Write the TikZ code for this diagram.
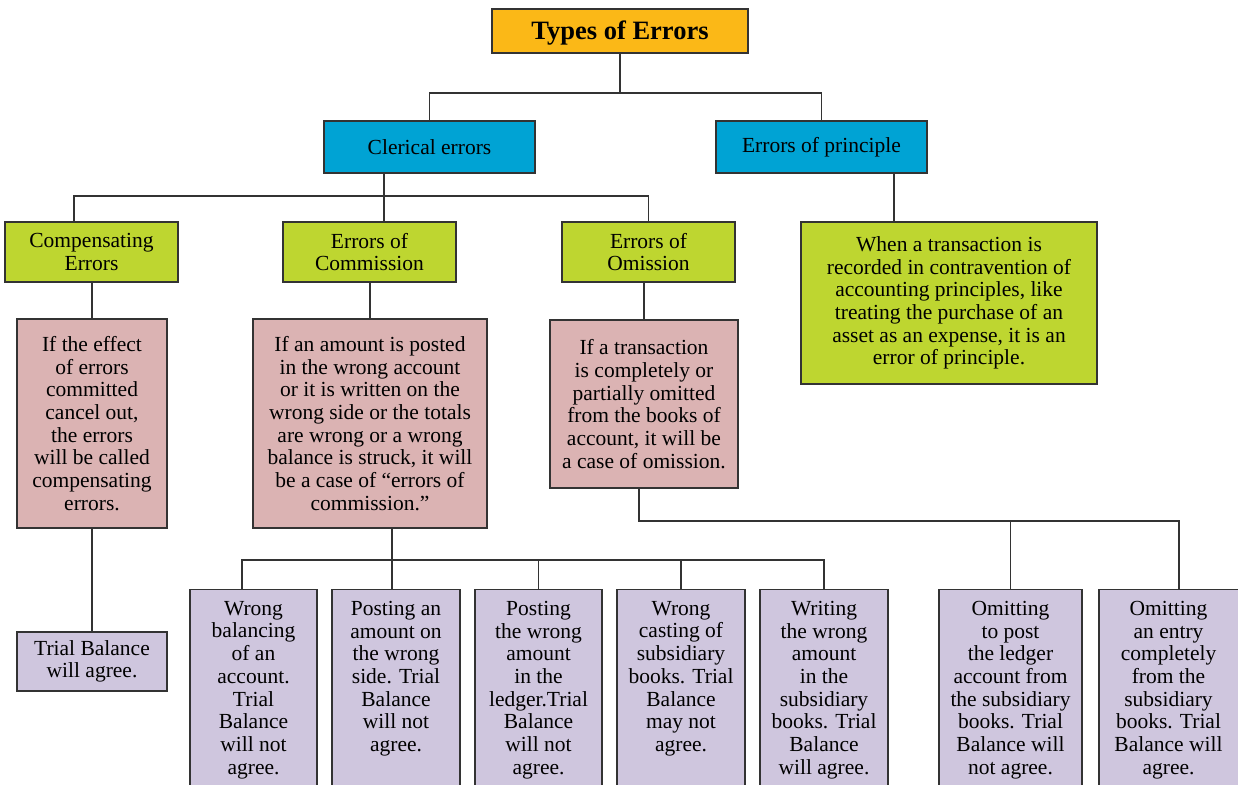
\documentclass[tikz,border=0pt]{standalone}
\usepackage{fontspec}
\setmainfont{Liberation Serif}

\definecolor{titlefill}{HTML}{FBB817}
\definecolor{headfill}{HTML}{00A3D4}
\definecolor{typefill}{HTML}{BED630}
\definecolor{notefill}{HTML}{DBB3B3}
\definecolor{casefill}{HTML}{CFC6DE}
\definecolor{edge}{HTML}{333333}

\newcommand\bodytext{\fontsize{21.5}{22.7}\selectfont}

\tikzset{
  box/.style={draw=edge, line width=1.3pt, inner sep=0pt, align=center,
              font=\bodytext, text=black},
  titlebox/.style={box, fill=titlefill, font=\fontsize{26.5}{30}\selectfont\bfseries},
  headbox/.style={box, fill=headfill},
  typebox/.style={box, fill=typefill},
  notebox/.style={box, fill=notefill},
  casebox/.style={box, fill=casefill},
  casetext/.style={anchor=north, inner sep=0pt, align=center, font=\bodytext},
  link/.style={draw=edge, line width=1.2pt}
}

\begin{document}
\begin{tikzpicture}[x=1pt, y=-1pt]
\fill[white] (0,0) rectangle (1238,784);
\useasboundingbox (0,0) rectangle (1238,784);

% top level
\node[titlebox, minimum width=256pt, minimum height=44pt] (title) at (620,31) {\raisebox{-8.5pt}[0pt][0pt]{Types of Errors}};
\node[headbox, minimum width=211pt, minimum height=52pt] (clerical) at (429.5,147) {Clerical errors};
\node[headbox, minimum width=211pt, minimum height=52pt] (principle) at (821.5,147) {Errors of principle};

% kinds of clerical error
\node[typebox, minimum width=173pt, minimum height=60pt] (comp) at (91.5,252) {Compensating\\Errors};
\node[typebox, minimum width=173pt, minimum height=60pt] (comm) at (369.5,252) {Errors of\\Commission};
\node[typebox, minimum width=173pt, minimum height=60pt] (omis) at (648.5,252) {Errors of\\Omission};
\node[typebox, minimum width=296pt, minimum height=162pt] (princnote) at (949,303)
  {When a transaction is\\recorded in contravention of\\accounting principles, like\\treating the purchase of an\\asset as an expense, it is an\\error of principle.};

% explanations
\node[notebox, minimum width=150pt, minimum height=209pt] (compnote) at (92,423.5)
  {If the effect\\of errors\\committed\\cancel out,\\the errors\\will be called\\compensating\\errors.};
\node[notebox, minimum width=234pt, minimum height=209pt] (commnote) at (370,423.5)
  {If an amount is posted\\in the wrong account\\or it is written on the\\wrong side or the totals\\are wrong or a wrong\\balance is struck, it will\\be a case of “errors of\\commission.”};
\node[notebox, minimum width=188pt, minimum height=168pt] (omisnote) at (644,404)
  {If a transaction\\is completely or\\partially omitted\\from the books of\\account, it will be\\a case of omission.};

% effect on the trial balance
\node[casebox, minimum width=150pt, minimum height=59pt] (compcase) at (92,661.5) {Trial Balance\\will agree.};

\node[casebox, minimum width=127pt, minimum height=212pt, anchor=north] (c1) at (253.5,589) {};
\node[casebox, minimum width=128pt, minimum height=212pt, anchor=north] (c2) at (396,589) {};
\node[casebox, minimum width=127pt, minimum height=212pt, anchor=north] (c3) at (538.5,589) {};
\node[casebox, minimum width=128pt, minimum height=212pt, anchor=north] (c4) at (681,589) {};
\node[casebox, minimum width=128pt, minimum height=212pt, anchor=north] (c5) at (824,589) {};
\node[casebox, minimum width=143pt, minimum height=212pt, anchor=north] (c6) at (1010.5,589) {};
\node[casebox, minimum width=141pt, minimum height=212pt, anchor=north] (c7) at (1169.5,589) {};

\node[casetext] (t1) at ([yshift=-12pt]c1.north) {Wrong\\balancing\\of an\\account.\\Trial\\Balance\\will not\\agree.};
\node[casetext] (t2) at ([yshift=-12pt]c2.north) {Posting an\\amount on\\the wrong\\side. Trial\\Balance\\will not\\agree.};
\node[casetext] (t3) at ([yshift=-12pt]c3.north) {Posting\\the wrong\\amount\\in the\\ledger.Trial\\Balance\\will not\\agree.};
\node[casetext] (t4) at ([yshift=-12pt]c4.north) {Wrong\\casting of\\subsidiary\\books. Trial\\Balance\\may not\\agree.};
\node[casetext] (t5) at ([yshift=-12pt]c5.north) {Writing\\the wrong\\amount\\in the\\subsidiary\\books. Trial\\Balance\\will agree.};
\node[casetext] (t6) at ([yshift=-12pt]c6.north) {Omitting\\to post\\the ledger\\account from\\the subsidiary\\books. Trial\\Balance will\\not agree.};
\node[casetext] (t7) at ([xshift=-1pt,yshift=-12pt]c7.north) {Omitting\\an entry\\completely\\from the\\subsidiary\\books. Trial\\Balance will\\agree.};

% connectors: top levels
\path[link] (title.south) -- (title.south |- 0,93);
\path[link] (clerical.north) |- (principle.north |- 0,93) -- (principle.north);

\coordinate (clfoot) at ([xshift=-45.5pt]clerical.south);
\coordinate (compin) at ([xshift=-17.5pt]comp.north);
\path[link] (clfoot) -- (clfoot |- comm.north);
\path[link] (compin) |- (omis.north |- 0,196) -- (omis.north);

\coordinate (prfoot) at ([xshift=72.5pt]principle.south);
\path[link] (prfoot) -- (prfoot |- princnote.north);

% connectors: explanations
\path[link] (compnote.north) -- (compnote.north |- comp.south);
\path[link] (commnote.north) -- (commnote.north |- comm.south);
\path[link] (omisnote.north) -- (omisnote.north |- omis.south);
\path[link] (compnote.south) -- (compnote.south |- compcase.north);

% connectors: commission cases
\coordinate (cmfoot) at ([xshift=22pt]commnote.south);
\coordinate (c1in) at ([xshift=-11.5pt]c1.north);
\path[link] (cmfoot) -- (cmfoot |- c2.north);
\path[link] (c1in) |- (c5.north |- 0,560) -- (c5.north);
\path[link] (c3.north) -- (c3.north |- 0,560);
\path[link] (c4.north) -- (c4.north |- 0,560);

% connectors: omission cases
\coordinate (omfoot) at ([xshift=-5pt]omisnote.south);
\coordinate (c7in) at ([xshift=9.5pt]c7.north);
\path[link] (omfoot) |- (c7in |- 0,521) -- (c7in);
\path[link] (c6.north) -- (c6.north |- 0,521);
\end{tikzpicture}
\end{document}
